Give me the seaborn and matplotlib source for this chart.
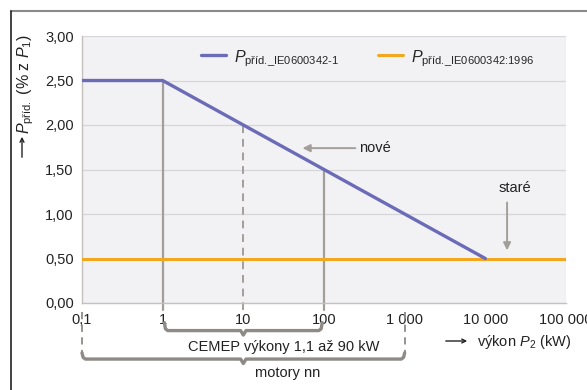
import matplotlib
matplotlib.use("Agg")
import matplotlib.pyplot as plt
import seaborn as sns
import pandas as pd
import numpy as np

# ---- data ----
new_x = [0.1, 1, 10, 100, 1000, 10000]
new_y = [2.5, 2.5, 2.0, 1.5, 1.0, 0.5]
old_x = [0.1, 100000]
old_y = [0.5, 0.5]
xticks = [0.1, 1, 10, 100, 1000, 10000, 100000]
xtick_labels = ["0,1", "1", "10", "100", "1 000", "10 000", "100 000"]
yticks = [0.0, 0.5, 1.0, 1.5, 2.0, 2.5, 3.0]
ytick_labels = ["0,00", "0,50", "1,00", "1,50", "2,00", "2,50", "3,00"]
vline_x = [1, 10, 100]
vline_top = [2.5, 2.0, 1.5]
vline_style = ["-", "--", "-"]

sns.set_theme(style="white")
plt.rcParams["font.family"] = ["Liberation Sans", "DejaVu Sans"]
plt.rcParams["mathtext.fontset"] = "custom"
plt.rcParams["mathtext.rm"] = "Liberation Sans"
plt.rcParams["mathtext.it"] = "Liberation Sans:italic"

BLUE = "#6b6bb8"
ORANGE = "#f0a91e"
GRAY = "#a39e99"
DGRAY = "#8e8a86"
TXT = "#222222"

fig = plt.figure(figsize=(5.87, 3.90), dpi=100)
ax = fig.add_axes([82/587, 1-303/390, (566-82)/587, (303-36)/390])
ax.set_facecolor("#f2f2f5")

# frame of figure
fig.add_artist(plt.Line2D([11/587, 1], [1-11/390, 1-11/390], color="#8a8a8a", lw=1.5))
fig.add_artist(plt.Line2D([11/587, 11/587], [0, 1-11/390], color="#222222", lw=1.2))

ax.set_xscale("log")
ax.set_xlim(0.1, 100000)
ax.set_ylim(0, 3.0)

for y in yticks[1:]:
    ax.axhline(y, color="#d6d6d9", lw=0.9, zorder=0.5)
ax.axvline(100000, color="#e0e0e3", lw=0.9, zorder=0.5)

# vertical reference lines
for xv, yt, ls in zip(vline_x, vline_top, vline_style):
    ax.plot([xv, xv], [-0.08, yt], color=GRAY, lw=1.6 if ls == "-" else 1.4,
            ls=ls if ls == "-" else (0, (4, 3)), clip_on=False, zorder=1)

df_new = pd.DataFrame({"x": new_x, "y": new_y})
df_old = pd.DataFrame({"x": old_x, "y": old_y})
sns.lineplot(data=df_old, x="x", y="y", ax=ax, color=ORANGE, lw=2.2, zorder=3,
             label=r"$\mathit{P}_{\text{příd._IE0600342:1996}}$")
sns.lineplot(data=df_new, x="x", y="y", ax=ax, color=BLUE, lw=2.4, zorder=4,
             label=r"$\mathit{P}_{\text{příd._IE0600342-1}}$")

h, l = ax.get_legend_handles_labels()
leg = ax.legend(h[::-1], l[::-1], loc="upper center", ncol=2, frameon=False,
                fontsize=11.5, bbox_to_anchor=(0.59, 1.01), columnspacing=2.4,
                handlelength=1.6, handletextpad=0.5)

ax.set_xticks(xticks)
ax.set_xticklabels(xtick_labels)
ax.set_yticks(yticks)
ax.set_yticklabels(ytick_labels)
ax.minorticks_off()
ax.tick_params(axis="both", labelsize=10.5, colors=TXT, length=4,
               width=1, direction="out")
ax.tick_params(axis="x", color=GRAY, pad=3)
ax.tick_params(axis="y", color=GRAY, pad=2)
for s in ["top", "right"]:
    ax.spines[s].set_visible(False)
for s in ["left", "bottom"]:
    ax.spines[s].set_color("#c4c0bd")
    ax.spines[s].set_linewidth(1.0)
ax.set_xlabel("")
ax.set_ylabel("")

# y label (rotated) with separate arrow
fig.text(26/587, 1-84/390, r"$\mathit{P}_{\mathrm{příd.}}$ (% z $\mathit{P}_1$)",
         rotation=90, fontsize=11.5, ha="center", va="center", color=TXT)
fig.add_artist(matplotlib.patches.FancyArrowPatch(
    (22/587, 1-160/390), (22/587, 1-134/390), transform=fig.transFigure,
    arrowstyle="->", mutation_scale=7, color=TXT, lw=1.0))

# annotations
ax.annotate("", xy=(50, 1.74), xytext=(265, 1.74),
            arrowprops=dict(arrowstyle="-|>", color=GRAY, lw=1.4, mutation_scale=11))
ax.text(270, 1.74, "nové", fontsize=10.5, va="center", ha="left", color=TXT)
ax.annotate("", xy=(18600, 0.56), xytext=(18600, 1.16),
            arrowprops=dict(arrowstyle="-|>", color=GRAY, lw=1.4, mutation_scale=11))
ax.text(23000, 1.29, "staré", fontsize=10.5, va="center", ha="center", color=TXT)

# braces below axis
def brace(x0, x1, xc, ytop, ybot, cusp):
    xs = [x0, x0 * 1.03, x0 * 1.1, xc / 1.08, xc, xc * 1.08, x1 / 1.1, x1 / 1.03, x1]
    ys = [ytop, ybot + 0.02, ybot, ybot, ybot - cusp, ybot, ybot, ybot + 0.02, ytop]
    ax.plot(xs, ys, color=DGRAY, lw=2.4, clip_on=False, solid_joinstyle="round",
            solid_capstyle="round")

brace(1.05, 95, 10, -0.22, -0.31, 0.05)
ax.plot([0.1, 0.1], [-0.1, -0.56], color=DGRAY, lw=1.3, ls=(0, (4, 3)), clip_on=False)
ax.plot([1000, 1000], [-0.1, -0.56], color=DGRAY, lw=1.3, ls=(0, (4, 3)), clip_on=False)
brace(0.1, 1000, 10, -0.56, -0.63, 0.05)

ax.text(10 ** 1.5, -0.49, "CEMEP výkony 1,1 až 90 kW", fontsize=10.5, ha="center",
        va="center", color=TXT, clip_on=False)
ax.text(10 ** 1.55, -0.79, "motory nn", fontsize=10.5, ha="center", va="center",
        color=TXT, clip_on=False)

# x label with separate arrow
fig.add_artist(matplotlib.patches.FancyArrowPatch(
    (443/587, 1-341/390), (470/587, 1-341/390), transform=fig.transFigure,
    arrowstyle="->", mutation_scale=7, color=TXT, lw=1.0))
fig.text(477/587, 1-342/390, r"výkon $\mathit{P}_2$ (kW)",
         fontsize=10.5, ha="left", va="center", color=TXT)

fig.savefig("out.png", dpi=100)
